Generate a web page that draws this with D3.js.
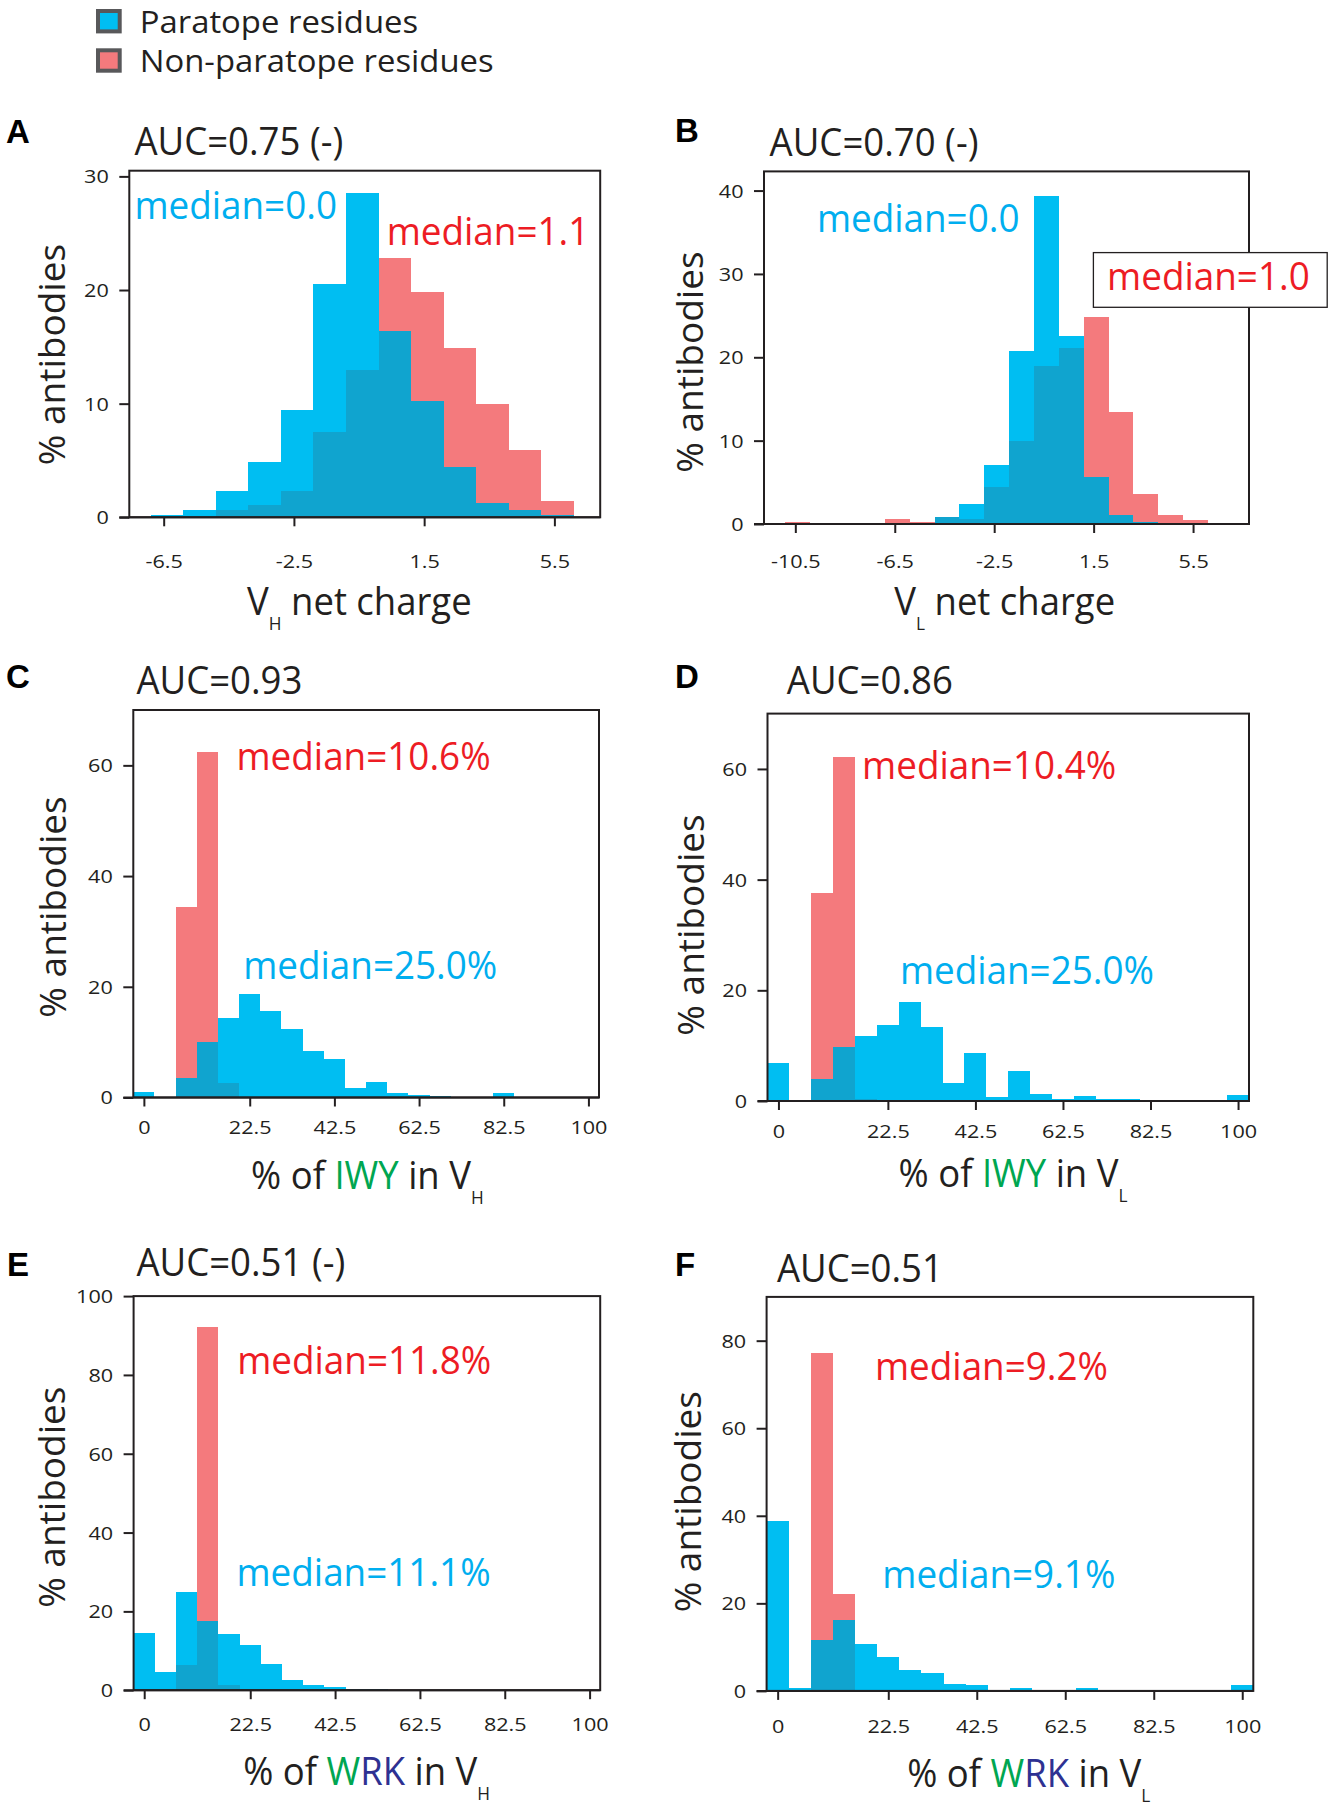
<!DOCTYPE html>
<html><head><meta charset="utf-8">
<script src="https://cdn.jsdelivr.net/npm/d3@7"></script>
<style>body{margin:0;background:#fff}svg{display:block}</style>
</head><body>
<svg id="chart" width="1334" height="1808"></svg>
<script>
// ---------------- DATA ----------------
const seriesNames = ["Paratope residues", "Non-paratope residues"];

// A: VH net charge (bins of width 1 starting at -6.9)
const aBinStart = -6.9, aBinWidth = 1;
const aParatope    = [0.2, 0.64, 2.33, 4.9, 9.4, 20.5, 28.5, 16.4, 10.2, 4.46, 1.25, 0.64, 0.2];
const aNonParatope = [0.05, 0, 0.64, 1.1, 2.33, 7.5, 13.0, 22.8, 19.8, 14.9, 10.0, 5.95, 1.46];
const aXTicks = [-6.5, -2.5, 1.5, 5.5];
const aYTicks = [0, 10, 20, 30];

// B: VL net charge (bins of width 1 starting at -10.9)
const bBinStart = -10.9, bBinWidth = 1;
const bParatope    = [0, 0, 0, 0, 0, 0, 0.8, 2.4, 7.1, 20.7, 39.3, 22.6, 5.6, 1.1, 0.2, 0.1, 0];
const bNonParatope = [0.25, 0, 0, 0, 0.6, 0.25, 0.8, 0.6, 4.4, 9.9, 18.9, 21.1, 24.8, 13.4, 3.6, 1.1, 0.45];
const bXTicks = [-10.5, -6.5, -2.5, 1.5, 5.5];
const bYTicks = [0, 10, 20, 30, 40];

// C-F: percentage histograms (bins of width 5 starting at -5; first bin = 0%)
const pctBinStart = -5, pctBinWidth = 5;
const pctTickPos    = [-2.5, 22.5, 42.5, 62.5, 82.5, 102.5];
const pctTickLabels = ["0", "22.5", "42.5", "62.5", "82.5", "100"];

const cParatope    = [1.0, 0, 3.6, 10.1, 14.3, 18.7, 15.7, 12.3, 8.4, 7.0, 1.8, 2.8, 0.8, 0.5, 0.3, 0, 0, 0.8, 0, 0, 0, 0];
const cNonParatope = [0, 0, 34.5, 62.5, 2.7, 0, 0, 0, 0, 0, 0, 0, 0, 0, 0, 0, 0, 0, 0, 0, 0, 0];
const cYTicks = [0, 20, 40, 60];

const dParatope    = [6.8, 0, 4.0, 9.7, 11.7, 13.7, 17.8, 13.3, 3.3, 8.6, 0.7, 5.5, 1.35, 0.4, 0.9, 0.45, 0.45, 0.15, 0, 0, 0, 1.1];
const dNonParatope = [0, 0, 37.5, 62.1, 0.3, 0, 0, 0, 0, 0, 0, 0, 0, 0, 0, 0, 0, 0, 0, 0, 0, 0];
const dYTicks = [0, 20, 40, 60];

const eParatope    = [14.4, 4.6, 24.8, 17.6, 14.2, 11.4, 6.7, 2.5, 1.4, 0.7, 0.2, 0.35, 0, 0, 0, 0, 0, 0, 0, 0, 0, 0];
const eNonParatope = [0, 0, 6.5, 92.2, 1.4, 0, 0, 0, 0, 0, 0, 0, 0, 0, 0, 0, 0, 0, 0, 0, 0, 0];
const eYTicks = [0, 20, 40, 60, 80, 100];

const fParatope    = [38.7, 0.6, 11.7, 16.1, 10.6, 7.7, 4.8, 4.0, 1.6, 1.3, 0.15, 0.65, 0.1, 0.1, 0.65, 0, 0, 0, 0, 0, 0, 1.3];
const fNonParatope = [0, 0, 77.2, 22.1, 0.3, 0, 0, 0, 0, 0, 0, 0, 0, 0, 0, 0, 0, 0, 0, 0, 0, 0];
const fYTicks = [0, 20, 40, 60, 80];

const panelLetters = ["A", "B", "C", "D", "E", "F"];
const aucTitles = ["AUC=0.75 (-)", "AUC=0.70 (-)", "AUC=0.93", "AUC=0.86", "AUC=0.51 (-)", "AUC=0.51"];
const paratopeMedians = ["median=0.0", "median=0.0", "median=25.0%", "median=25.0%", "median=11.1%", "median=9.1%"];
const nonParatopeMedians = ["median=1.1", "median=1.0", "median=10.6%", "median=10.4%", "median=11.8%", "median=9.2%"];

// ---------------- STYLE ----------------
const COL_PARA = "#00BEF2", COL_NON = "#F47A7D", COL_BOTH = "#10A4CF";
const TXT_BLUE = "#00AEEF", TXT_RED = "#ED1C24", TXT_GREEN = "#00A651", TXT_NAVY = "#2E3192";
const INK = "#231F20";
const FONT = "'Open Sans', sans-serif";
const TICK_SX = 1.2;

// ---------------- LAYOUT ----------------
const panels = [
  { box: {l: 129.3, t: 170.7, r: 600.2, b: 517.3}, xDomain: [-7.556, 6.907], yDomain: [0, 30.5],
    binStart: aBinStart, binWidth: aBinWidth, para: aParatope, non: aNonParatope,
    xTickPos: aXTicks, xTickLabels: aXTicks.map(String), yTicks: aYTicks, tickLabelOff: 50.5,
    letter: [6, 143.2], title: [134.4, 154.8], paraMed: [134.4, 219.5], nonMed: [386.7, 245.3],
    ylab: [65, 354.6], xlab: [247.1, 615], xlabKind: "charge", sub: "H" },
  { box: {l: 764, t: 171.4, r: 1249, b: 524}, xDomain: [-11.76, 7.75], yDomain: [0, 42.3],
    binStart: bBinStart, binWidth: bBinWidth, para: bParatope, non: bNonParatope,
    xTickPos: bXTicks, xTickLabels: bXTicks.map(String), yTicks: bYTicks, tickLabelOff: 44.5,
    letter: [675, 142.2], title: [769.6, 156.4], paraMed: [816.9, 231.7], nonMed: [1107.1, 290.1],
    nonBox: [1093.4, 252.6, 1327.2, 307.3],
    ylab: [703, 362.1], xlab: [894.3, 615.5], xlabKind: "charge", sub: "L" },
  { box: {l: 133.3, t: 710, r: 599, b: 1097.5}, xDomain: [-5, 105], yDomain: [0, 70],
    binStart: pctBinStart, binWidth: pctBinWidth, para: cParatope, non: cNonParatope,
    xTickPos: pctTickPos, xTickLabels: pctTickLabels, yTicks: cYTicks, tickLabelOff: 37,
    letter: [6, 687.5], title: [136.4, 693.9], paraMed: [243.2, 978.6], nonMed: [236.5, 769.6],
    ylab: [66, 907], xlab: [251.1, 1189.3], xlabKind: "IWY", sub: "H" },
  { box: {l: 767.5, t: 713.6, r: 1249, b: 1101}, xDomain: [-5, 105], yDomain: [0, 70],
    binStart: pctBinStart, binWidth: pctBinWidth, para: dParatope, non: dNonParatope,
    xTickPos: pctTickPos, xTickLabels: pctTickLabels, yTicks: dYTicks, tickLabelOff: 37,
    letter: [675, 687.5], title: [786.8, 693.6], paraMed: [899.9, 983.9], nonMed: [862.1, 779.3],
    ylab: [704, 925], xlab: [898.6, 1187.5], xlabKind: "IWY", sub: "L" },
  { box: {l: 133.6, t: 1296.1, r: 600.2, b: 1690.2}, xDomain: [-5, 105], yDomain: [0, 100],
    binStart: pctBinStart, binWidth: pctBinWidth, para: eParatope, non: eNonParatope,
    xTickPos: pctTickPos, xTickLabels: pctTickLabels, yTicks: eYTicks, tickLabelOff: 40.5,
    letter: [7, 1276.2], title: [136.4, 1276.2], paraMed: [236.5, 1585.9], nonMed: [237.2, 1374],
    ylab: [65, 1497.2], xlab: [243.2, 1785.1], xlabKind: "WRK", sub: "H" },
  { box: {l: 766.6, t: 1296.9, r: 1253.3, b: 1690.9}, xDomain: [-5, 105], yDomain: [0, 90],
    binStart: pctBinStart, binWidth: pctBinWidth, para: fParatope, non: fNonParatope,
    xTickPos: pctTickPos, xTickLabels: pctTickLabels, yTicks: fYTicks, tickLabelOff: 42,
    letter: [675, 1276.2], title: [776.9, 1281.7], paraMed: [882.3, 1587.7], nonMed: [875, 1380.5],
    ylab: [701, 1501.7], xlab: [907.2, 1786.9], xlabKind: "WRK", sub: "L" }
];

const svg = d3.select("#chart");
svg.append("rect").attr("width", 1334).attr("height", 1808).attr("fill", "#fff");

// text helper with horizontal scale (to mimic the condensed original typeface)
function stText(parent, x, y, size, sx, color, anchor, weight, family) {
  return parent.append("text")
    .attr("x", x / sx).attr("y", y).attr("transform", `scale(${sx},1)`)
    .attr("font-family", family || FONT).attr("font-size", size)
    .attr("font-weight", weight || "normal").attr("fill", color)
    .attr("text-anchor", anchor || "start");
}

// ---------------- LEGEND ----------------
const legendColors = [COL_PARA, COL_NON];
const legendY = [[11, 33.5], [50.3, 72.5]];
seriesNames.forEach((name, i) => {
  svg.append("rect").attr("x", 98).attr("y", legendY[i][0]).attr("width", 21.7).attr("height", 20.4)
    .attr("fill", legendColors[i]).attr("stroke", "#58585A").attr("stroke-width", 4);
  stText(svg, 139.7, legendY[i][1], 31, 1.06, INK).text(name);
});

// ---------------- PANELS ----------------
panels.forEach((p, pi) => {
  const g = svg.append("g");
  const x = d3.scaleLinear().domain(p.xDomain).range([p.box.l, p.box.r]);
  const y = d3.scaleLinear().domain(p.yDomain).range([p.box.b, p.box.t]);
  const bins = p.para.map((v, i) => ({
    x0: p.binStart + i * p.binWidth, x1: p.binStart + (i + 1) * p.binWidth,
    para: v, non: p.non[i] || 0
  }));
  const layer = (cls, val, col) => g.selectAll("rect." + cls)
    .data(bins.filter(d => val(d) > 0)).join("rect").attr("class", cls)
    .attr("x", d => x(d.x0)).attr("width", d => x(d.x1) - x(d.x0))
    .attr("y", d => y(val(d))).attr("height", d => y(0) - y(val(d)))
    .attr("fill", col).attr("shape-rendering", "crispEdges");
  layer("non", d => d.non, COL_NON);
  layer("para", d => d.para, COL_PARA);
  layer("both", d => Math.min(d.para, d.non), COL_BOTH);

  // frame
  g.append("rect").attr("x", p.box.l).attr("y", p.box.t)
    .attr("width", p.box.r - p.box.l).attr("height", p.box.b - p.box.t)
    .attr("fill", "none").attr("stroke", INK).attr("stroke-width", 2);

  // y axis
  const ya = g.append("g").attr("transform", `translate(${p.box.l},0)`)
    .call(d3.axisLeft(y).tickValues(p.yTicks).tickSize(10).tickFormat(d3.format("d")));
  ya.select(".domain").remove();
  ya.selectAll(".tick line").attr("stroke", INK).attr("stroke-width", 2);
  ya.selectAll(".tick text").attr("x", -20.5 / TICK_SX).attr("dy", "0.36em")
    .attr("transform", `scale(${TICK_SX},1)`)
    .attr("font-family", FONT).attr("font-size", 18).attr("fill", INK).attr("text-anchor", "end");

  // x axis
  const xa = g.append("g").attr("transform", `translate(0,${p.box.b})`)
    .call(d3.axisBottom(x).tickValues(p.xTickPos).tickSize(9).tickFormat((d, i) => p.xTickLabels[i]));
  xa.select(".domain").attr("stroke", INK).attr("stroke-width", 2).attr("d", `M${p.box.l - 10},0H${p.box.r}`);
  xa.selectAll(".tick line").attr("stroke", INK).attr("stroke-width", 2);
  xa.selectAll(".tick text").attr("x", 0).attr("y", p.tickLabelOff).attr("dy", 0)
    .attr("transform", `scale(${TICK_SX},1)`)
    .attr("font-family", FONT).attr("font-size", 18).attr("fill", INK);

  // panel letter + title
  stText(svg, p.letter[0], p.letter[1], 33, 1.0, "#000", "start", "bold", "'Liberation Sans', Arial, sans-serif").text(panelLetters[pi]);
  stText(svg, p.title[0], p.title[1], 38.5, 0.95, INK).text(aucTitles[pi]);

  // medians
  if (p.nonBox) {
    const bx = p.nonBox;
    svg.append("rect").attr("x", bx[0]).attr("y", bx[1]).attr("width", bx[2] - bx[0]).attr("height", bx[3] - bx[1])
      .attr("fill", "#fff").attr("stroke", INK).attr("stroke-width", 1.3);
  }
  stText(svg, p.paraMed[0], p.paraMed[1], 38, 0.97, TXT_BLUE).text(paratopeMedians[pi]);
  stText(svg, p.nonMed[0], p.nonMed[1], 38, 0.97, TXT_RED).text(nonParatopeMedians[pi]);

  // y label
  svg.append("text").attr("transform", `translate(${p.ylab[0]},${p.ylab[1]}) rotate(-90)`)
    .attr("text-anchor", "middle").attr("font-family", FONT).attr("font-size", 37).attr("fill", INK)
    .text("% antibodies");

  // x label
  const t = stText(svg, p.xlab[0], p.xlab[1], 38, 0.96, INK);
  if (p.xlabKind === "charge") {
    t.append("tspan").text("V");
    t.append("tspan").attr("font-size", 18).attr("dy", 15).text(p.sub);
    t.append("tspan").attr("dy", -15).text(" net charge");
  } else {
    t.append("tspan").text("% of ");
    if (p.xlabKind === "IWY") {
      t.append("tspan").attr("fill", TXT_GREEN).text("IWY");
    } else {
      t.append("tspan").attr("fill", TXT_GREEN).text("W");
      t.append("tspan").attr("fill", TXT_NAVY).text("RK");
    }
    t.append("tspan").text(" in V");
    t.append("tspan").attr("font-size", 18).attr("dy", 15).text(p.sub);
  }
});
</script>
</body></html>
